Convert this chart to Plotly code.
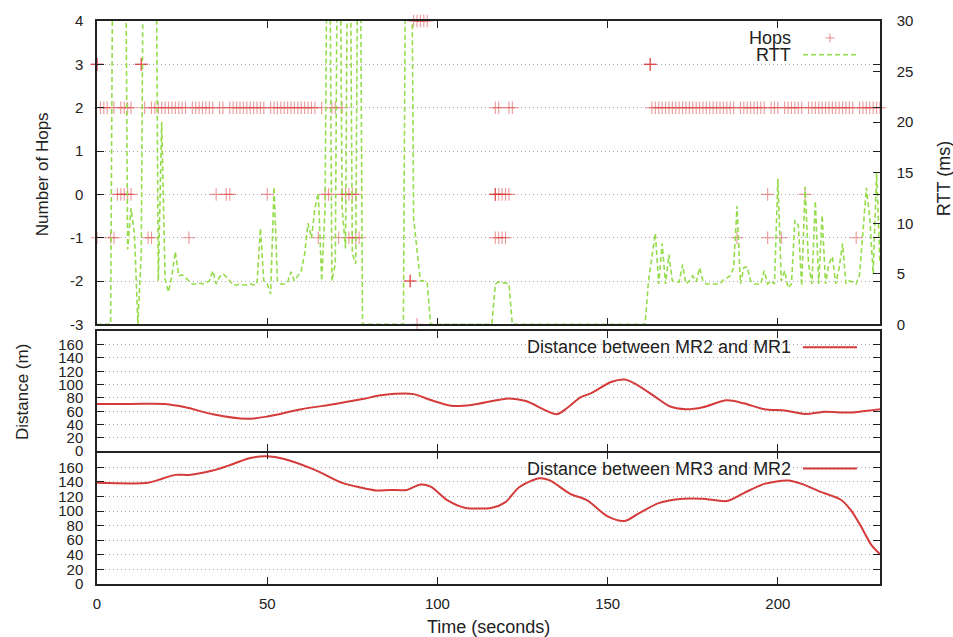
import plotly.graph_objects as go

# ---------------- data ----------------
# RTT (ms), one probe per second from t = 0 to t = 230; 60 marks replies far above the axis
rtt_ms = [
    0, 0, 0, 0, 0, 60, 60, 60, 60, 7.4,          # 0-9
    11.5, 9.0, 0, 7.0, 60, 60, 60, 60, 4.3, 20.0,  # 10-19
    4.5, 3.2, 4.8, 7.2, 4.8, 4.9, 4.6, 4.3, 4.0, 4.0,  # 20-29
    4.1, 4.0, 4.1, 4.3, 5.3, 4.0, 4.7, 5.0, 4.7, 4.3,  # 30-39
    3.9, 3.9, 4.0, 3.9, 3.9, 4.0, 3.9, 4.0, 9.5, 4.3,  # 40-49
    4.0, 3.0, 13.6, 4.3, 4.0, 4.0, 4.2, 5.2, 4.3, 4.8,  # 50-59
    5.3, 7.0, 10.0, 8.5, 11.5, 13.0, 4.3, 11.5, 60, 4.3,  # 60-69
    6.0, 60, 11.5, 7.5, 60, 7.0, 6.0, 60, 0, 0,  # 70-79
    0, 0, 0, 0, 0, 0, 0, 0, 0, 0,  # 80-89
    0, 60, 60, 10.5, 7.5, 4.3, 4.3, 4.1, 0, 0,  # 90-99
    0, 0, 0, 0, 0, 0, 0, 0, 0, 0,  # 100-109
    0, 0, 0, 0, 0, 0, 0, 4.0, 4.2, 4.1,  # 110-119
    4.1, 4.0, 0, 0, 0, 0, 0, 0, 0, 0,  # 120-129
    0, 0, 0, 0, 0, 0, 0, 0, 0, 0,  # 130-139
    0, 0, 0, 0, 0, 0, 0, 0, 0, 0,  # 140-149
    0, 0, 0, 0, 0, 0, 0, 0, 0, 0,  # 150-159
    0, 0, 4.3, 6.5, 9.0, 4.0, 8.0, 4.0, 6.9, 4.3,  # 160-169
    4.2, 4.2, 5.9, 4.0, 4.3, 4.8, 4.2, 5.6, 4.3, 4.0,  # 170-179
    4.0, 4.0, 4.0, 4.0, 4.4, 4.6, 4.8, 5.6, 11.7, 4.0,  # 180-189
    5.6, 5.7, 4.3, 4.0, 4.0, 4.0, 5.3, 4.0, 4.3, 4.0,  # 190-199
    14.4, 4.3, 5.3, 3.6, 4.0, 10.3, 9.8, 3.8, 13.6, 6.0,  # 200-209
    4.0, 12.2, 4.0, 10.8, 4.0, 6.0, 6.7, 4.0, 5.6, 8.0,  # 210-219
    4.0, 4.3, 4.2, 4.0, 4.9, 9.5, 13.5, 10.5, 5.0, 15.0,  # 220-229
    6.0,  # 230
]
rtt_time = list(range(len(rtt_ms)))

# Hop-count samples, grouped by the reported number of hops (time in seconds)
hops_4_t = [93, 94, 95, 96, 97]
hops_3_t = [0, 0, 0, 13, 13, 13, 162.5, 162.5, 162.5]
hops_2_t = [1, 2, 3, 5, 7, 8, 9, 10,
            14, 16, 17, 18, 19, 20, 21, 22, 23, 24, 25, 26,
            28, 29, 30, 31, 32, 33, 34, 36, 37,
            39, 40, 41, 42, 43, 44, 45, 46, 47, 48, 49,
            51, 52, 53, 54, 55, 56, 57, 58, 59, 60, 61, 62, 63, 64,
            66, 69, 70, 72,
            117, 118, 121, 122,
            163, 164, 165, 166, 167, 168, 169, 170, 171, 172, 173, 174, 175,
            176, 177, 178, 179, 180, 181, 182, 183, 184, 185, 186, 187, 189,
            190, 191, 192, 193, 194, 195, 196, 198, 199, 200, 202, 203, 204,
            205, 206, 207, 209, 210, 211, 212, 213, 214, 215, 216, 217, 218,
            219, 220, 221, 222, 224, 225, 226, 227, 228, 229, 230]
hops_0_t = [6, 7, 8, 9, 10, 35, 38, 39, 50, 67, 68, 72, 73, 74, 75, 76,
            117, 117, 117, 118, 119, 120, 121, 197, 208]
hops_m1_t = [0, 4, 5, 15, 16, 27, 65, 71, 74, 75, 76, 77,
             117, 118, 119, 120, 188, 197, 201, 223]
hops_m2_t = [92, 92, 92]
hops_m3_t = [94]

# Distance between mobile routers (m)
dist21_t = [0, 10, 20, 26, 34, 44, 50, 60, 70, 78, 84, 93, 98, 104, 110,
            121, 126, 135, 138, 142, 145, 151, 155, 158, 164, 168, 173, 178,
            185, 190, 196, 202, 208, 214, 220, 224, 230]
dist21_m = [70.9, 71, 71, 66, 55.5, 48.6, 52, 63, 70.9, 78.3, 84.3, 85.7, 76.8,
            68.4, 69.5, 79.3, 75.3, 55.6, 64.5, 80.8, 86.8, 104, 107.6, 101.6,
            81.7, 67.9, 63, 66, 76.4, 71.9, 63, 61, 56, 59.4, 58, 59.4, 63]

dist32_t = [0, 15, 18, 23, 27, 34, 40, 45, 50, 55, 64, 72, 77, 82, 86, 91, 95,
            98, 103, 108, 116, 120, 124, 130, 133, 139, 144, 150, 155, 159, 165,
            172, 178, 185, 190, 196, 203, 207, 212, 218.5, 221.5, 224.5, 227.5, 230]
dist32_m = [138.7, 138.7, 142.8, 149.6, 149.6, 155.5, 164.6, 172.8, 175, 171.4,
            156.4, 138.7, 132.7, 128.2, 128.9, 128.9, 136.4, 133.6, 114.6, 104.6,
            104.6, 112.3, 132.7, 145, 142, 123.7, 114.6, 92.7, 86.4, 96.4, 110.9,
            116.9, 116.9, 113.7, 124.6, 137.3, 141.9, 137.3, 127.3, 115.5, 100.9,
            78.2, 53.2, 40.9]

x_ticks = [0, 50, 100, 150, 200]
hops_ticks = [-3, -2, -1, 0, 1, 2, 3, 4]
hops_tick_text = ["-3", "-2", "-1", "0", "1", "2", "3", "4"]
rtt_ticks = [0, 5, 10, 15, 20, 25, 30]
dist_ticks = [0, 20, 40, 60, 80, 100, 120, 140, 160]

# ---------------- figure ----------------
W, H = 953, 637
L, R, T, B = 97, 73, 18, 53
PW, PH = W - L - R, H - T - B


def px(x):
    return (x - L) / PW


def py(y):
    return (H - B - y) / PH


FONT = "Liberation Sans, Arial, sans-serif"
INK = "#222222"
GRID = "#a8a8a8"
HOP_COLOR = "rgba(220, 50, 50, 0.5)"
RTT_COLOR = "#95dc4c"
DIST_COLOR = "#d43b3b"

hop_x, hop_y = [], []
for level, times in [(4, hops_4_t), (3, hops_3_t), (2, hops_2_t), (0, hops_0_t),
                     (-1, hops_m1_t), (-2, hops_m2_t), (-3, hops_m3_t)]:
    hop_x += times
    hop_y += [level] * len(times)

fig = go.Figure()
fig.add_trace(go.Scatter(
    x=hop_x, y=hop_y, mode="markers", name="Hops",
    marker=dict(symbol="cross-thin", size=9, line=dict(width=1.1, color=HOP_COLOR)),
    cliponaxis=False, xaxis="x", yaxis="y", showlegend=False))
fig.add_trace(go.Scatter(
    x=rtt_time, y=rtt_ms, mode="lines", name="RTT",
    line=dict(color=RTT_COLOR, width=1.6, dash="5px,3px"),
    xaxis="x", yaxis="y4", showlegend=False))
fig.add_trace(go.Scatter(
    x=dist21_t, y=dist21_m, mode="lines", name="Distance between MR2 and MR1",
    line=dict(color=DIST_COLOR, width=2, shape="spline", smoothing=0.8),
    xaxis="x2", yaxis="y2", showlegend=False))
fig.add_trace(go.Scatter(
    x=dist32_t, y=dist32_m, mode="lines", name="Distance between MR3 and MR2",
    line=dict(color=DIST_COLOR, width=2, shape="spline", smoothing=0.8),
    xaxis="x3", yaxis="y3", showlegend=False))

tick_font = dict(family=FONT, size=15, color=INK)
frame = dict(showline=True, linecolor=INK, linewidth=1.5, ticks="inside",
             ticklen=7, tickwidth=1.3, tickcolor=INK, zeroline=False,
             tickfont=tick_font)
grid = dict(showgrid=True, gridcolor=GRID, griddash="1px,3px", gridwidth=1)

top_dom = [py(323), 1]
mid_dom = [py(450.5), py(330)]
bot_dom = [0, py(452)]

xcommon = dict(range=[0, 230], tickvals=x_ticks, mirror="ticks", showgrid=False, **frame)
fig.update_layout(
    xaxis=dict(anchor="y", domain=[0, 1], showticklabels=False, **xcommon),
    xaxis2=dict(anchor="y2", domain=[0, 1], matches="x", showticklabels=False, **xcommon),
    xaxis3=dict(anchor="y3", domain=[0, 1], matches="x", ticklabelstandoff=5, **xcommon),
    yaxis=dict(domain=top_dom, range=[-3, 4], tickvals=hops_ticks, ticktext=hops_tick_text,
               mirror="ticks", ticklabelstandoff=9, **grid, **frame),
    yaxis4=dict(overlaying="y", side="right", anchor="x", range=[0, 30],
                tickvals=rtt_ticks, showgrid=False, ticklabelstandoff=12, **frame),
    yaxis2=dict(domain=mid_dom, range=[0, 180], tickvals=dist_ticks, mirror="ticks",
                ticklabelstandoff=9, **grid, **frame),
    yaxis3=dict(domain=bot_dom, range=[0, 180], tickvals=dist_ticks, mirror="ticks",
                ticklabelstandoff=9, **grid, **frame),
)

# axis titles
title_font = dict(family=FONT, size=17, color=INK)
annotations = [
    dict(text="Number of Hops", x=px(42), y=py(172), textangle=-90, font=title_font),
    dict(text="Distance (m)", x=px(22), y=py(391), textangle=-90, font=title_font),
    dict(text="RTT (ms)", x=px(944), y=py(177), textangle=-90,
         font=dict(family=FONT, size=18, color=INK)),
    dict(text="Time (seconds)", x=px(488), y=py(627),
         font=dict(family=FONT, size=18, color=INK)),
]
# key entries: label on the left, sample on the right
legend_font = dict(family=FONT, size=18, color=INK)
for label, ypix in [("Hops", 35), ("RTT", 52),
                    ("Distance between MR2 and MR1", 346),
                    ("Distance between MR3 and MR2", 468)]:
    annotations.append(dict(text=label, x=px(793), y=py(ypix), xanchor="right",
                            font=legend_font))
for a in annotations:
    a.update(xref="paper", yref="paper", showarrow=False)
    a.setdefault("xanchor", "center")
    a.setdefault("yanchor", "middle")

shapes = [
    # Hops key: a "+" sample
    dict(type="line", x0=px(825.5), x1=px(834.5), y0=py(35), y1=py(35),
         line=dict(color=HOP_COLOR, width=1.1)),
    dict(type="line", x0=px(830), x1=px(830), y0=py(30.5), y1=py(39.5),
         line=dict(color=HOP_COLOR, width=1.1)),
    # RTT key
    dict(type="line", x0=px(803), x1=px(857), y0=py(52), y1=py(52),
         line=dict(color=RTT_COLOR, width=1.6, dash="5px,3px")),
    # distance keys
    dict(type="line", x0=px(803), x1=px(857), y0=py(346), y1=py(346),
         line=dict(color=DIST_COLOR, width=2)),
    dict(type="line", x0=px(803), x1=px(857), y0=py(468), y1=py(468),
         line=dict(color=DIST_COLOR, width=2)),
]
for s in shapes:
    s.update(xref="paper", yref="paper")

fig.update_layout(
    width=W, height=H, autosize=False,
    margin=dict(l=L, r=R, t=T, b=B, pad=0),
    paper_bgcolor="white", plot_bgcolor="white",
    showlegend=False,
    annotations=annotations, shapes=shapes,
    font=dict(family=FONT, color=INK),
)

fig.write_html("out.html")
